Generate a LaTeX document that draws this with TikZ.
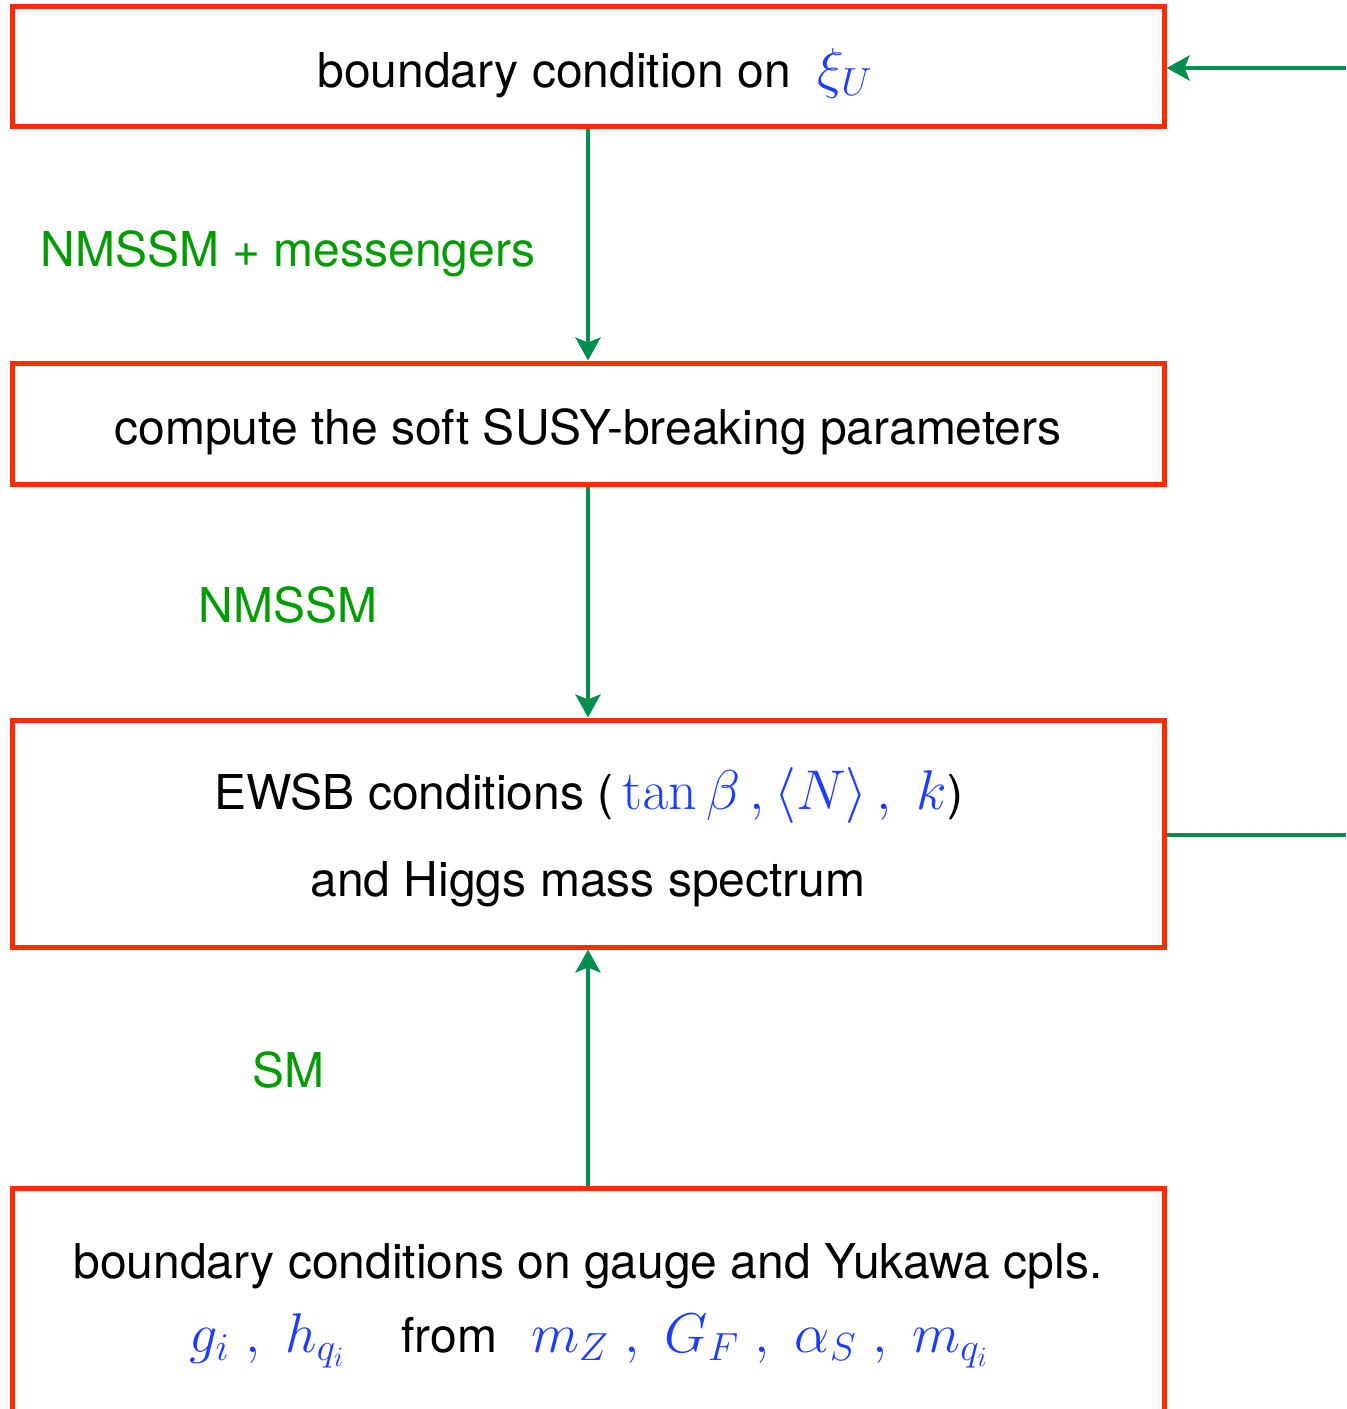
\RequirePackage{fix-cm}
\documentclass[tikz,border=0pt]{standalone}
\usepackage[no-math]{fontspec}
\setmainfont{TeX Gyre Heros}
\usetikzlibrary{arrows.meta}
\definecolor{boxred}{RGB}{255,42,0}
\definecolor{flowgreen}{RGB}{0,142,78}
\definecolor{labelgreen}{RGB}{0,155,0}
\definecolor{mathblue}{RGB}{30,60,255}
% blue formulas, set a little larger than the surrounding text
\newcommand{\bmath}[2][28]{{\fontsize{#1}{34}\selectfont\color{mathblue}$#2$}}
\begin{document}
\begin{tikzpicture}[x=0.5pt,y=-0.5pt,
  font=\fontsize{24}{29}\selectfont,
  stage/.style={draw=boxred, line width=2.5pt, minimum width=576pt, inner sep=0pt},
  stagetext/.style={align=center, inner sep=0pt},
  flow/.style={draw=flowgreen, line width=2pt, -{Stealth[length=11.5pt,width=12.5pt,inset=2.5pt]}},
  plainflow/.style={draw=flowgreen, line width=2pt},
  steplabel/.style={text=labelgreen, text height=17pt, text depth=0pt}]
\useasboundingbox (0,0) rectangle (1346,1409);
\clip (0,0) rectangle (1346,1409);

% stages of the iteration
\node[stage, minimum height=60pt] (bcu) at (588,66.5) {};
\node[stage, minimum height=60.5pt] (soft) at (588,423.5) {};
\node[stage, minimum height=113.5pt] (ewsb) at (588,833.5) {};
\node[stage, minimum height=200pt, anchor=north] (smbc) at (588,1186) {};

\node[stagetext] (bcutext) at (595,73)
  {boundary condition on \ \bmath{\xi_U}};
\node[stagetext] (softtext) at (588,432)
  {compute the soft SUSY-breaking parameters};
\node[stagetext] (ewsbtext1) at (589,795)
  {EWSB conditions (\bmath{\,\tan\beta\,,\langle N\rangle\,,\ k})};
\node[stagetext] (ewsbtext2) at (588,884)
  {and Higgs mass spectrum};
\node[stagetext] (smtext1) at (588,1266)
  {boundary conditions on gauge and Yukawa cpls.};
\node[stagetext] (smtext2) at (589,1341)
  {\bmath{g_i\ ,\ h_{q_i}}\hspace{28pt}from\hspace{17pt}\bmath{m_Z\ ,\ G_F\ ,\ \alpha_S\ ,\ m_{q_i}}};

% running between the stages
\draw[flow] (bcu.south) -- (soft.north);
\draw[flow] (soft.south) -- (ewsb.north);
\draw[flow] (smbc.north) -- (ewsb.south);

\node[steplabel] (lab1) at (288,249) {NMSSM + messengers};
\node[steplabel] (lab2) at (288,605) {NMSSM};
\node[steplabel] (lab3) at (288,1070) {SM};

% feedback loop on the right
\coordinate (loopin) at (1346,68);
\coordinate (loopout) at (1346,835);
\draw[flow] (loopin) -- (loopin -| bcu.east);
\draw[plainflow] (ewsb.east |- loopout) -- (loopout);
\end{tikzpicture}
\end{document}
